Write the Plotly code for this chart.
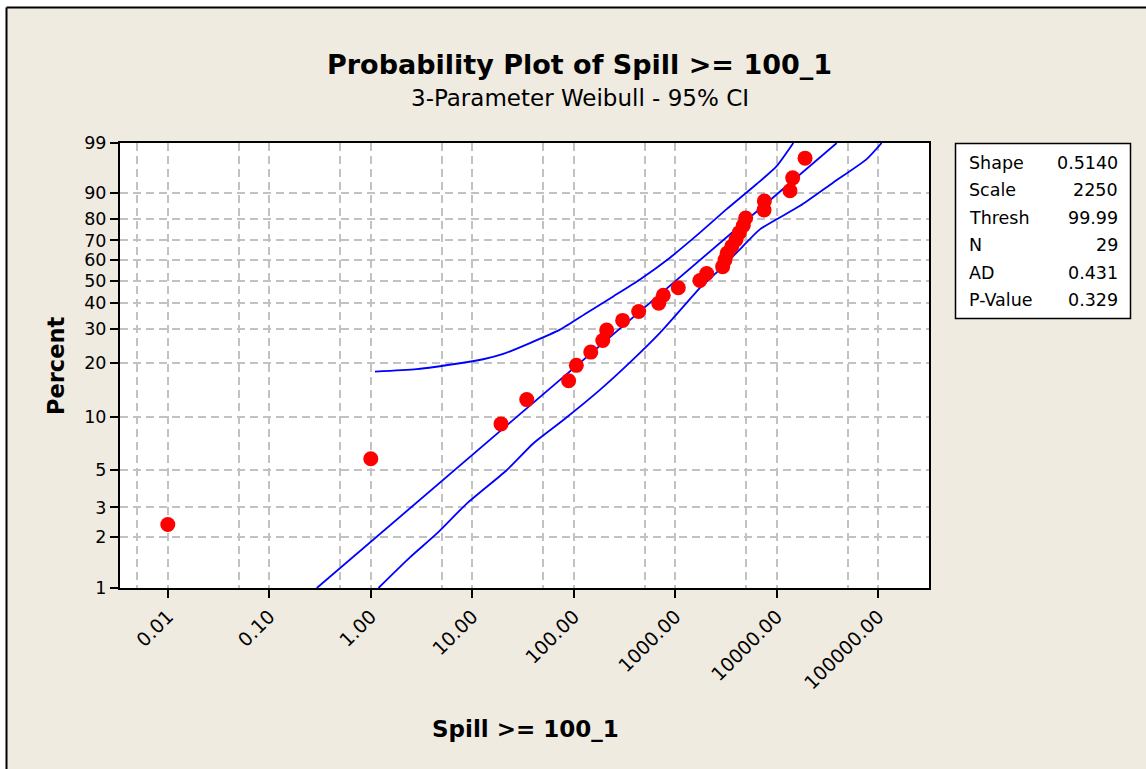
import numpy as np
import plotly.graph_objects as go

# ---------------- data ----------------
spill = [0.01, 1.0, 19.2, 34.4, 89, 106, 147, 193, 211, 303, 436, 687, 762, 1071,
         1750, 2040, 2930, 3090, 3250, 3600, 3970, 4280, 4680, 4940, 7500, 7550,
         13500, 14350, 19000]
percent = [2.38, 5.78, 9.18, 12.59, 15.99, 19.39, 22.79, 26.19, 29.59, 32.99,
           36.39, 39.80, 43.20, 46.60, 50.00, 53.40, 56.80, 60.20, 63.61, 67.01,
           70.41, 73.81, 77.21, 80.61, 84.01, 87.41, 90.82, 94.22, 97.62]

fit_x = [0.294, 39000]
fit_p = [1, 99]

ci_upper_x = [1.10, 2.83, 7.57, 12.8, 20.2, 37.0, 73.1, 134, 245, 449, 887, 1750,
              3210, 6340, 9980, 14550]
ci_upper_p = [17.95, 18.5, 19.9, 20.9, 22.3, 25.4, 29.7, 35.8, 42.7, 50.5, 61.3,
              73.8, 84.3, 92.7, 96.5, 99]
ci_lower_x = [1.19, 2.43, 4.46, 8.81, 21.8, 39.9, 78.9, 181, 358, 706, 1294, 1750,
              2754, 4335, 6823, 16950, 36060, 76900, 108000]
ci_lower_p = [1, 1.52, 2.10, 3.16, 4.96, 7.09, 9.65, 14.25, 20.1, 28.6, 39.9, 46.6,
              55.4, 65.5, 75.4, 85.6, 93.1, 97.5, 99]

y_ticks = [1, 2, 3, 5, 10, 20, 30, 40, 50, 60, 70, 80, 90, 99]
x_ticks = [0.01, 0.1, 1, 10, 100, 1000, 10000, 100000]
x_ticktext = ["0.01", "0.10", "1.00", "10.00", "100.00", "1000.00", "10000.00", "100000.00"]
x_minor_grid = [0.005, 0.05, 0.5, 5, 50, 500, 5000, 50000]

stat_labels = ["Shape", "Scale", "Thresh", "N", "AD", "P-Value"]
stat_values = ["0.5140", "2250", "99.99", "29", "0.431", "0.329"]


def weib(p):
    p = np.asarray(p, dtype=float) / 100.0
    return np.log(-np.log(1.0 - p))


# ---------------- layout geometry ----------------
W, H = 1146, 769
ML, MR, MT, MB = 120, 217, 143, 181
PW, PH = W - ML - MR, H - MT - MB


def px(x):
    return (x - ML) / PW


def py(y):
    return 1 - (y - MT) / PH


FONT = "DejaVu Sans"
BG = "#EFEBE0"
BLUE = "#0000FF"

fig = go.Figure()

fig.add_trace(go.Scatter(x=fit_x, y=weib(fit_p), mode="lines",
                         line=dict(color=BLUE, width=1.8), hoverinfo="skip"))
fig.add_trace(go.Scatter(x=ci_upper_x, y=weib(ci_upper_p), mode="lines",
                         line=dict(color=BLUE, width=1.8, shape="spline", smoothing=0.6),
                         hoverinfo="skip"))
fig.add_trace(go.Scatter(x=ci_lower_x, y=weib(ci_lower_p), mode="lines",
                         line=dict(color=BLUE, width=1.8, shape="spline", smoothing=0.6),
                         hoverinfo="skip"))
fig.add_trace(go.Scatter(x=spill, y=weib(percent), mode="markers",
                         marker=dict(color="#FF0000", size=15, line=dict(width=0))))

grid = dict(gridcolor="#C2C2C2", gridwidth=2, griddash="8px,5px")

fig.update_xaxes(type="log", range=[-2.471, 5.5],
                 tickmode="array", tickvals=x_ticks, ticktext=x_ticktext,
                 tickangle=-45, tickfont=dict(family=FONT, size=19, color="black"),
                 ticks="outside", ticklen=8, tickwidth=2, tickcolor="black",
                 showline=True, linecolor="black", linewidth=2, mirror=True,
                 showgrid=True, zeroline=False,
                 minor=dict(tickmode="array", tickvals=x_minor_grid, showgrid=True,
                            ticks="", **grid),
                 **grid)
fig.update_yaxes(range=[float(weib(1)), float(weib(99))],
                 tickmode="array", tickvals=weib(y_ticks).tolist(),
                 ticktext=[str(t) for t in y_ticks],
                 tickfont=dict(family=FONT, size=17.5, color="black"),
                 ticks="outside", ticklen=8, tickwidth=2, tickcolor="black",
                 showline=True, linecolor="black", linewidth=2, mirror=True,
                 showgrid=True, zeroline=False, **grid)

annotations = [
    dict(text="<b>Probability Plot of Spill >= 100_1</b>", x=px(579), y=py(65),
         font=dict(family=FONT, size=27, color="black")),
    dict(text="3-Parameter Weibull - 95% CI", x=px(580), y=py(98),
         font=dict(family=FONT, size=23, color="black")),
    dict(text="<b>Percent</b>", x=px(56), y=py(366), textangle=-90,
         font=dict(family=FONT, size=22.5, color="black")),
    dict(text="<b>Spill >= 100_1</b>", x=px(525), y=py(729),
         font=dict(family=FONT, size=23, color="black")),
]
for k, (lab, val) in enumerate(zip(stat_labels, stat_values)):
    yy = 163 + 27.4 * k
    annotations.append(dict(text=lab, x=px(967), y=py(yy), xanchor="left",
                            font=dict(family=FONT, size=17.5, color="black")))
    annotations.append(dict(text=val, x=px(1120), y=py(yy), xanchor="right",
                            font=dict(family=FONT, size=17.5, color="black")))
for a in annotations:
    a.update(xref="paper", yref="paper", showarrow=False)
    a.setdefault("xanchor", "center")
    a.setdefault("yanchor", "middle")

shapes = [
    # white strips outside the outer frame
    dict(type="rect", x0=px(0), x1=px(W), y0=py(0), y1=py(7.5), fillcolor="white",
         line=dict(width=0)),
    dict(type="rect", x0=px(0), x1=px(6.5), y0=py(0), y1=py(H), fillcolor="white",
         line=dict(width=0)),
    # outer frame lines
    dict(type="line", x0=px(6.5), x1=px(W), y0=py(7.5), y1=py(7.5),
         line=dict(color="black", width=2)),
    dict(type="line", x0=px(6.5), x1=px(6.5), y0=py(7.5), y1=py(H),
         line=dict(color="black", width=2)),
    # statistics box
    dict(type="rect", x0=px(955.5), x1=px(1130.5), y0=py(143.5), y1=py(318.5),
         fillcolor="white", line=dict(color="black", width=1.5)),
]
for s in shapes:
    s.update(xref="paper", yref="paper", layer="above")

fig.update_layout(
    width=W, height=H, autosize=False,
    margin=dict(l=ML, r=MR, t=MT, b=MB),
    paper_bgcolor=BG, plot_bgcolor="white",
    showlegend=False,
    annotations=annotations, shapes=shapes,
    font=dict(family=FONT, color="black"),
)

fig.write_html("out.html")
